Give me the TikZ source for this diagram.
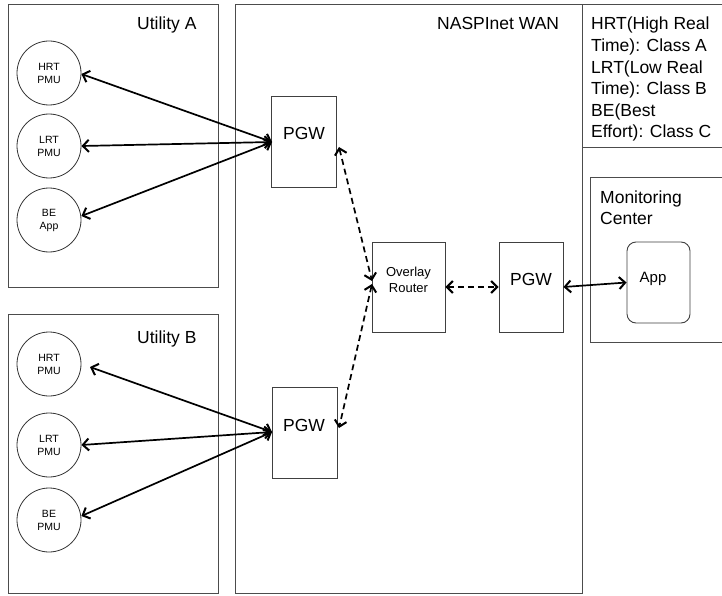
\documentclass[tikz,border=0pt]{standalone}
\usepackage{fontspec}
\setmainfont{Liberation Sans}
\usetikzlibrary{arrows.meta}
\begin{document}
\begin{tikzpicture}[x=1pt,y=-1pt,
  frame/.style={draw=black!70, line width=1pt},
  unit/.style={circle, draw=black!80, line width=0.8pt, minimum size=64pt, inner sep=0pt, align=center, font=\fontsize{10.5}{13}\selectfont},
  gw/.style={rectangle, draw=black!75, line width=0.9pt, inner sep=0pt},
  lbl/.style={inner sep=0pt, font=\fontsize{17.5}{20}\selectfont},
  tip/.tip={Straight Barb[length=6pt,width=12pt,line width=2pt]},
  link/.style={line width=1.7pt, tip-tip},
  dlink/.style={link, dash pattern=on 6pt off 4pt},
  title/.style={font=\fontsize{17.5}{20}\selectfont, anchor=base west, inner sep=0pt}]
\useasboundingbox[fill=white] (0,0) rectangle (722,596);
% frames
\draw[frame] (8,5) rectangle (218,287);
\draw[frame] (8,314) rectangle (218,593);
\draw[frame] (235,5) rectangle (582,593);
\draw[frame] (582,5) -- (730,5);
\draw[frame] (582,148) -- (730,148);
\draw[frame] (730,178) -- (590,178) -- (590,342) -- (730,342);
% titles
\node[title] at (137,30) {Utility A};
\node[title] at (137,343) {Utility B};
\node[title] at (437,30) {NASPInet WAN};
\foreach \t [count=\i from 0] in {HRT(High Real,Time): Class A,LRT(Low Real,Time): Class B,BE(Best,Effort): Class C}
  \node[title] at (591,30+21.6*\i) {\t};
\node[title] at (600,203) {Monitoring};
\node[title] at (600,224) {Center};
% utility A units
\node[unit] (ah) at (49,73) {HRT\\PMU};
\node[unit] (al) at (49,146) {LRT\\PMU};
\node[unit] (ab) at (49,220) {BE\\App};
% utility B units
\node[unit] (bh) at (49,364) {HRT\\PMU};
\node[unit] (bl) at (49,445) {LRT\\PMU};
\node[unit] (bb) at (49,520) {BE\\PMU};
% gateways
\node[gw, minimum width=65pt, minimum height=91pt] (pa) at (304,141.5) {};
\node[lbl] at (304,133) {PGW};
\node[gw, minimum width=65pt, minimum height=91pt] (pb) at (304.5,432.5) {};
\node[lbl] at (304,425) {PGW};
\node[gw, minimum width=73pt, minimum height=90pt] (ov) at (408.5,287) {};
\node[inner sep=0pt, font=\fontsize{13}{16}\selectfont, align=center] at (408.5,280) {Overlay\\Router};
\node[gw, minimum width=64pt, minimum height=90pt] (pm) at (531,287) {};
\node[lbl] at (531,279) {PGW};
\node[gw, rounded corners=9pt, minimum width=63pt, minimum height=81pt] (app) at (658.5,282.5) {};
\node[inner sep=0pt, font=\fontsize{15}{16}\selectfont] at (653,279) {App};
% coordinates
\coordinate (pain) at (272,142);
\coordinate (pbin) at (272,432);
\coordinate (bhend) at (90,367);
\coordinate (paout) at (339,147);
\coordinate (pbout) at (339,428);
\coordinate (ova) at (372,281);
\coordinate (ovb) at (372,284);
% links
\draw[link] (ah.east |- 0,74) -- (pain);
\draw[link] (al.east) -- (pain);
\draw[link] (ab.east |- 0,216) -- (pain);
\draw[link] (bhend) -- (pbin);
\draw[link] (bl.east) -- (pbin);
\draw[link] (bb.east |- 0,516) -- (pbin);
\draw[dlink] (paout) -- (ova);
\draw[dlink] (ovb) -- (pbout);
\draw[dlink] (ov.east) -- (pm.west);
\draw[link] (pm.east) -- (app.west);
\end{tikzpicture}
\end{document}
